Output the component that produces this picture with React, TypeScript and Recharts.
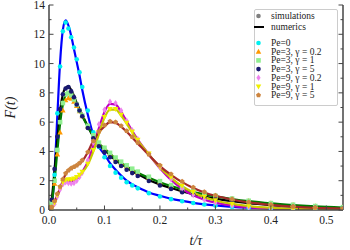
import { ComposedChart, Line, Scatter, XAxis, YAxis, Legend } from "recharts";

const times = [0, 0.005, 0.01, 0.015, 0.02, 0.025, 0.03, 0.035, 0.04, 0.045, 0.05, 0.055, 0.06, 0.07, 0.08, 0.09, 0.1, 0.11, 0.12, 0.13, 0.14, 0.15, 0.16, 0.18, 0.2, 0.22, 0.24, 0.26, 0.28, 0.3, 0.33, 0.36, 0.4, 0.44, 0.48, 0.53];

// numerics (lines)
const pe0Num = [0, 0.3, 2.6, 6.4, 10.1, 12.3, 12.95, 12.6, 11.9, 11.0, 10.1, 9.2, 8.2, 6.5, 5.1, 4.3, 3.8, 3.2, 2.75, 2.35, 2.0, 1.75, 1.55, 1.2, 0.97, 0.77, 0.62, 0.49, 0.39, 0.31, 0.22, 0.16, 0.11, 0.08, 0.06, 0.04];
const pe3g5Num = [0, 0.8, 2.7, 4.8, 6.8, 7.9, 8.35, 8.45, 8.2, 7.8, 7.3, 6.9, 6.5, 5.7, 5.0, 4.45, 4.1, 3.75, 3.4, 3.15, 2.9, 2.65, 2.45, 2.05, 1.75, 1.5, 1.27, 1.08, 0.92, 0.78, 0.6, 0.46, 0.33, 0.23, 0.16, 0.1];
const pe3g1Num = [0, 0.5, 2.0, 4.0, 5.9, 7.2, 7.85, 8.05, 7.9, 7.6, 7.2, 6.8, 6.4, 5.7, 5.05, 4.55, 4.2, 3.85, 3.5, 3.22, 2.97, 2.75, 2.55, 2.2, 1.9, 1.64, 1.42, 1.23, 1.07, 0.93, 0.75, 0.6, 0.45, 0.34, 0.25, 0.17];
const pe9g02Num = [0, 0.1, 0.45, 0.95, 1.45, 1.8, 1.95, 1.95, 1.95, 2.0, 2.1, 2.3, 2.6, 3.3, 4.4, 5.6, 6.7, 7.25, 7.2, 6.7, 6.05, 5.4, 4.8, 3.8, 2.85, 2.05, 1.45, 1.0, 0.7, 0.5, 0.3, 0.18, 0.1, 0.06, 0.04, 0.02];
const pe9g1Num = [0, 0.1, 0.5, 1.0, 1.5, 1.85, 2.0, 2.05, 2.05, 2.1, 2.2, 2.35, 2.55, 3.1, 4.0, 5.2, 6.3, 6.85, 6.85, 6.45, 5.9, 5.3, 4.75, 3.8, 2.9, 2.2, 1.62, 1.2, 0.88, 0.65, 0.42, 0.27, 0.15, 0.09, 0.05, 0.03];
const pe9g5Num = [0, 0.2, 0.6, 1.0, 1.5, 2.0, 2.45, 2.7, 2.82, 2.92, 3.02, 3.15, 3.35, 3.95, 4.75, 5.3, 5.7, 6.0, 5.95, 5.7, 5.35, 4.95, 4.55, 3.75, 3.0, 2.4, 1.9, 1.5, 1.2, 0.97, 0.72, 0.52, 0.35, 0.23, 0.15, 0.1];

// simulations (markers)
const pe0Sim = [0, 0.2, 2.4, 6.6, 9.8, 12.2, 12.8, 12.4, 11.8, 11.1, 10.3, 9.4, 8.4, 6.8, 5.3, 4.3, 3.6, 3.0, 2.55, 2.2, 1.9, 1.68, 1.48, 1.15, 0.92, 0.74, 0.6, 0.48, 0.38, 0.3, 0.21, 0.15, 0.1, 0.07, 0.05, 0.03];
const pe3g02Sim = [0, 0.4, 1.8, 3.8, 5.3, 6.8, 7.5, 7.65, 7.6, 7.4, 7.1, 6.75, 6.4, 5.7, 5.05, 4.55, 4.2, 3.85, 3.5, 3.22, 2.97, 2.75, 2.55, 2.2, 1.9, 1.64, 1.42, 1.24, 1.08, 0.94, 0.76, 0.61, 0.46, 0.35, 0.26, 0.18];
const pe3g1Sim = [0, 0.5, 2.0, 4.1, 6.0, 7.3, 7.9, 8.0, 7.85, 7.55, 7.2, 6.8, 6.45, 5.75, 5.1, 4.6, 4.25, 3.9, 3.58, 3.3, 3.05, 2.82, 2.62, 2.27, 1.97, 1.7, 1.48, 1.28, 1.12, 0.97, 0.78, 0.63, 0.47, 0.36, 0.27, 0.19];
const pe3g5Sim = [0, 0.7, 2.8, 5.0, 6.9, 7.9, 8.3, 8.4, 8.1, 7.7, 7.2, 6.8, 6.4, 5.6, 4.9, 4.35, 3.95, 3.6, 3.28, 3.0, 2.75, 2.52, 2.32, 1.98, 1.68, 1.44, 1.22, 1.04, 0.88, 0.75, 0.58, 0.44, 0.31, 0.22, 0.15, 0.1];
const pe9g02Sim = [0, 0.1, 0.4, 0.9, 1.4, 1.75, 1.9, 1.85, 1.8, 1.85, 2.0, 2.25, 2.55, 3.4, 4.6, 5.85, 6.85, 7.4, 7.3, 6.8, 6.1, 5.45, 4.85, 3.85, 2.9, 2.1, 1.48, 1.02, 0.72, 0.5, 0.3, 0.18, 0.1, 0.06, 0.04, 0.02];
const pe9g1Sim = [0, 0.1, 0.5, 1.0, 1.55, 1.9, 2.05, 2.1, 2.1, 2.15, 2.25, 2.4, 2.6, 3.15, 4.1, 5.3, 6.35, 6.9, 6.9, 6.5, 5.95, 5.35, 4.8, 3.85, 2.95, 2.25, 1.65, 1.22, 0.9, 0.66, 0.43, 0.28, 0.16, 0.1, 0.06, 0.03];
const pe9g5Sim = [0, 0.2, 0.6, 1.1, 1.6, 2.1, 2.5, 2.7, 2.85, 2.95, 3.05, 3.2, 3.4, 3.95, 4.7, 5.35, 5.8, 6.05, 6.0, 5.75, 5.4, 5.0, 4.6, 3.8, 3.05, 2.45, 1.95, 1.55, 1.24, 1.0, 0.74, 0.54, 0.36, 0.24, 0.16, 0.1];

const xTicks = [0, 0.05, 0.1, 0.15, 0.2, 0.25, 0.3, 0.35, 0.4, 0.45, 0.5];
const yTicks = [0, 1, 2, 3, 4, 5, 6, 7, 8, 9, 10, 11, 12, 13, 14];

const simSeries = [
	{ key: "pe0Sim", label: "Pe=0", color: "#00f0f0", shape: "circle" },
	{ key: "pe3g02Sim", label: "Pe=3, γ = 0.2", color: "#ff9900", shape: "up" },
	{ key: "pe3g1Sim", label: "Pe=3, γ = 1", color: "#90ee90", shape: "square" },
	{ key: "pe3g5Sim", label: "Pe=3, γ = 5", color: "#191970", shape: "circle" },
	{ key: "pe9g02Sim", label: "Pe=9, γ = 0.2", color: "#ee82ee", shape: "diamond" },
	{ key: "pe9g1Sim", label: "Pe=9, γ = 1", color: "#f0f000", shape: "down" },
	{ key: "pe9g5Sim", label: "Pe=9, γ = 5", color: "#cd853f", shape: "pentagon" },
];

const numSeries = [
	{ key: "pe0Num", color: "#0000ff" },
	{ key: "pe3g5Num", color: "#000000" },
	{ key: "pe3g1Num", color: "#007a00" },
	{ key: "pe9g02Num", color: "#c000c0" },
	{ key: "pe9g1Num", color: "#c8c800" },
	{ key: "pe9g5Num", color: "#a52a2a" },
];

const data = times.map((t, i) => ({
	t,
	pe0Num: pe0Num[i],
	pe3g5Num: pe3g5Num[i],
	pe3g1Num: pe3g1Num[i],
	pe9g02Num: pe9g02Num[i],
	pe9g1Num: pe9g1Num[i],
	pe9g5Num: pe9g5Num[i],
	pe0Sim: pe0Sim[i],
	pe3g02Sim: pe3g02Sim[i],
	pe3g1Sim: pe3g1Sim[i],
	pe3g5Sim: pe3g5Sim[i],
	pe9g02Sim: pe9g02Sim[i],
	pe9g1Sim: pe9g1Sim[i],
	pe9g5Sim: pe9g5Sim[i],
}));

const axisColor = "#444";
const serif = "'Liberation Serif', 'DejaVu Serif', serif";

function drawMarker(kind: string, color: string, cx: number, cy: number, r = 2.3) {
	switch (kind) {
		case "square":
			return <rect x={cx - r} y={cy - r} width={2 * r} height={2 * r} fill={color} />;
		case "up":
			return <polygon points={`${cx},${cy - r * 1.3} ${cx - r * 1.2},${cy + r * 0.9} ${cx + r * 1.2},${cy + r * 0.9}`} fill={color} />;
		case "down":
			return <polygon points={`${cx},${cy + r * 1.3} ${cx - r * 1.2},${cy - r * 0.9} ${cx + r * 1.2},${cy - r * 0.9}`} fill={color} />;
		case "diamond":
			return <polygon points={`${cx},${cy - r * 1.4} ${cx + r * 0.9},${cy} ${cx},${cy + r * 1.4} ${cx - r * 0.9},${cy}`} fill={color} />;
		case "pentagon": {
			const pts = [0, 1, 2, 3, 4]
				.map((k) => {
					const a = -Math.PI / 2 + (k * 2 * Math.PI) / 5;
					return `${cx + r * 1.15 * Math.cos(a)},${cy + r * 1.15 * Math.sin(a)}`;
				})
				.join(" ");
			return <polygon points={pts} fill={color} />;
		}
		default:
			return <circle cx={cx} cy={cy} r={r} fill={color} />;
	}
}

const makeShape = (kind: string, color: string) => (p: any) => {
	if (p.cx == null || p.cy == null) return <g />;
	return drawMarker(kind, color, p.cx, p.cy);
};

const isMajorX = (v: number) => Math.abs(v * 10 - Math.round(v * 10)) < 1e-6;

const BottomTick = (p: any) => {
	const { x, y, payload } = p;
	const major = isMajorX(payload.value);
	return (
		<g>
			<line x1={x} x2={x} y1={y} y2={y - (major ? 4.5 : 2.5)} stroke={axisColor} strokeWidth={1} />
			{major && (
				<text x={x} y={y + 14} textAnchor="middle" fontSize={11.5} fontFamily={serif} fill="#222">
					{payload.value.toFixed(1)}
				</text>
			)}
		</g>
	);
};

const TopTick = (p: any) => {
	const { x, y, payload } = p;
	const major = isMajorX(payload.value);
	return <line x1={x} x2={x} y1={y} y2={y + (major ? 4.5 : 2.5)} stroke={axisColor} strokeWidth={1} />;
};

const LeftTick = (p: any) => {
	const { x, y, payload } = p;
	const major = payload.value % 2 === 0;
	return (
		<g>
			<line x1={x} x2={x + (major ? 4.5 : 2.5)} y1={y} y2={y} stroke={axisColor} strokeWidth={1} />
			{major && (
				<text x={x - 4} y={y + 4} textAnchor="end" fontSize={11.5} fontFamily={serif} fill="#222">
					{payload.value}
				</text>
			)}
		</g>
	);
};

const RightTick = (p: any) => {
	const { x, y, payload } = p;
	const major = payload.value % 2 === 0;
	return <line x1={x} x2={x - (major ? 4.5 : 2.5)} y1={y} y2={y} stroke={axisColor} strokeWidth={1} />;
};

const LegendBox = () => (
	<div
		style={{
			width: 84,
			height: 97,
			boxSizing: "border-box",
			border: "1px solid #ccc",
			borderRadius: 2,
			background: "rgba(255,255,255,0.9)",
			position: "relative",
		}}
	>
		<svg width={84} height={97} style={{ position: "absolute", left: -1, top: -1 }}>
			{drawMarker("circle", "#808080", 4.5, 7, 2.3)}
			<text x={17} y={10} fontSize={9.5} fontFamily={serif} fill="#222">simulations</text>
			<line x1={0} x2={10} y1={18} y2={18} stroke="#000" strokeWidth={2} />
			<text x={17} y={21} fontSize={9.5} fontFamily={serif} fill="#222">numerics</text>
			{simSeries.map((s, i) => {
				const cy = 34 + i * 8.7;
				return (
					<g key={s.key}>
						{drawMarker(s.shape, s.color, 4.5, cy, 2.3)}
						<text x={17} y={cy + 3} fontSize={9.5} fontFamily={serif} fill="#222">{s.label}</text>
					</g>
				);
			})}
		</svg>
	</div>
);

export default function App() {
	return (
		<div style={{ position: "absolute", left: 0, top: 0, background: "#fff" }}>
			<ComposedChart width={350} height={250} data={data} margin={{ top: 5, right: 0, bottom: 0, left: 0 }}>
				<XAxis
					dataKey="t"
					type="number"
					domain={[0, 0.53]}
					ticks={xTicks}
					allowDataOverflow
					height={40}
					tickSize={0}
					tickMargin={0}
					tickLine={false}
					axisLine={{ stroke: axisColor, strokeWidth: 1.5 }}
					tick={<BottomTick />}
					interval={0}
					label={{ value: "t/τ", position: "insideBottom", offset: 5, style: { fontFamily: serif, fontStyle: "italic", fontSize: 14, fill: "#222" } }}
				/>
				<XAxis
					xAxisId="top"
					dataKey="t"
					type="number"
					orientation="top"
					domain={[0, 0.53]}
					ticks={xTicks}
					allowDataOverflow
					height={0}
					tickSize={0}
					tickMargin={0}
					tickLine={false}
					axisLine={{ stroke: axisColor, strokeWidth: 1.5 }}
					tick={<TopTick />}
					interval={0}
				/>
				<YAxis
					type="number"
					domain={[0, 14]}
					ticks={yTicks}
					allowDataOverflow
					width={49}
					tickSize={0}
					tickMargin={0}
					tickLine={false}
					axisLine={{ stroke: axisColor, strokeWidth: 1.5 }}
					tick={<LeftTick />}
					interval={0}
					label={{ value: "F(t)", angle: -90, position: "insideLeft", offset: 10, style: { fontFamily: serif, fontStyle: "italic", fontSize: 14, fill: "#222", textAnchor: "middle" } }}
				/>
				<YAxis
					yAxisId="right"
					type="number"
					orientation="right"
					domain={[0, 14]}
					ticks={yTicks}
					allowDataOverflow
					width={7}
					tickSize={0}
					tickMargin={0}
					tickLine={false}
					axisLine={{ stroke: axisColor, strokeWidth: 1.5 }}
					tick={<RightTick />}
					interval={0}
				/>
				{simSeries.map((s) => (
					<Scatter key={s.key} dataKey={s.key} fill={s.color} shape={makeShape(s.shape, s.color)} isAnimationActive={false} />
				))}
				{numSeries.map((s) => (
					<Line key={s.key} type="monotone" dataKey={s.key} stroke={s.color} strokeWidth={2.2} dot={false} isAnimationActive={false} />
				))}
				<Legend
					layout="horizontal"
					verticalAlign="middle"
					align="center"
					content={<LegendBox />}
					wrapperStyle={{ left: 254, top: 9, width: 84, height: 97 }}
				/>
			</ComposedChart>
		</div>
	);
}
